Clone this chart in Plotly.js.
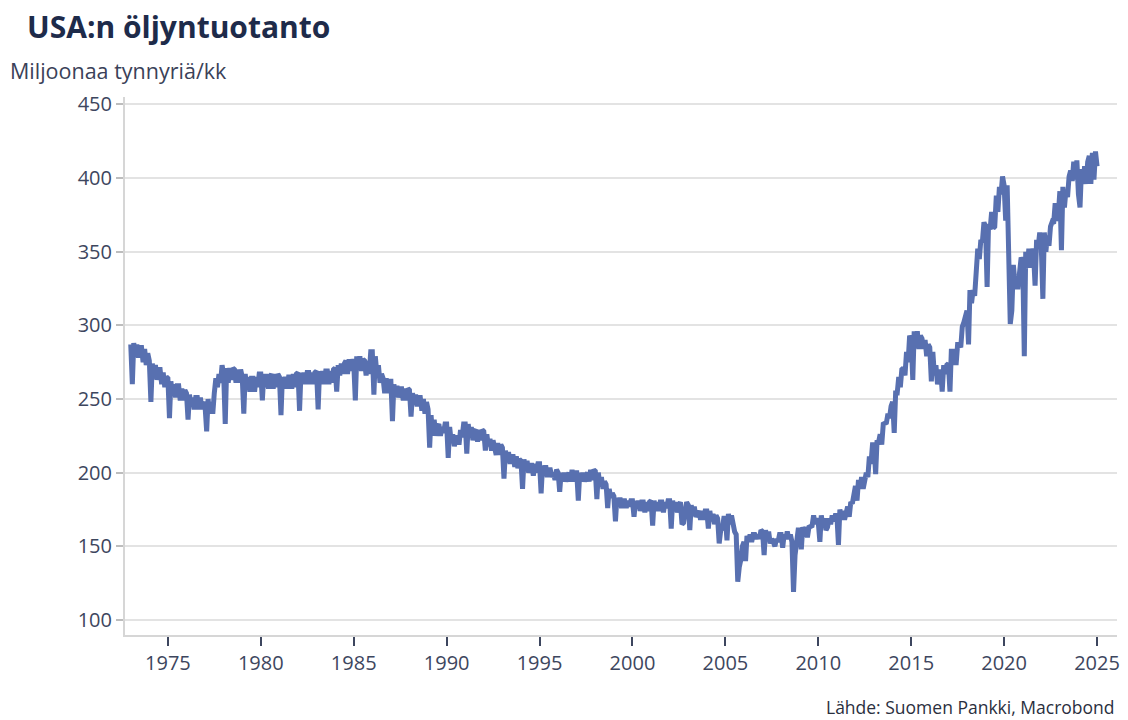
<!DOCTYPE html>
<html>
<head>
<meta charset="utf-8">
<script src="https://cdn.plot.ly/plotly-3.0.1.min.js"></script>
<style>
  html, body { margin: 0; padding: 0; background: #ffffff; }
  #chart { width: 1128px; height: 720px; }
</style>
</head>
<body>
<div id="chart"></div>
<script>
// USA:n öljyntuotanto, miljoonaa tynnyriä kuukaudessa (kuukausiarvot alkaen 1973-01)
const startYear = 1973;
const prod1970s = [
  287, 260, 288, 279, 287, 278, 285, 285, 275, 284, 273, 281,
  276, 248, 274, 264, 273, 263, 270, 270, 260, 268, 258, 265,
  264, 237, 262, 252, 260, 251, 259, 259, 249, 257, 249, 256,
  254, 236, 253, 245, 251, 243, 251, 251, 243, 251, 243, 248,
  245, 228, 250, 240, 248, 240, 254, 264, 258, 267, 261, 273,
  267, 233, 271, 261, 271, 263, 271, 270, 261, 270, 261, 270,
  265, 240, 267, 257, 265, 255, 264, 264, 255, 265, 258, 267
];
const prod1980s = [
  267, 249, 267, 258, 267, 257, 265, 267, 257, 267, 258, 267,
  265, 239, 265, 257, 265, 257, 265, 265, 257, 267, 258, 267,
  268, 242, 268, 260, 268, 260, 268, 268, 260, 268, 260, 268,
  269, 243, 269, 260, 269, 260, 269, 269, 260, 269, 261, 270,
  271, 255, 273, 266, 274, 267, 274, 276, 267, 277, 269, 277,
  274, 249, 279, 270, 279, 269, 277, 276, 266, 276, 267, 282,
  282, 253, 279, 267, 273, 261, 267, 264, 254, 264, 254, 262,
  262, 235, 260, 252, 259, 251, 257, 257, 249, 257, 249, 257,
  256, 238, 254, 246, 253, 245, 251, 251, 242, 250, 240, 248,
  243, 217, 239, 225, 236, 225, 231, 233, 225, 231, 227, 233
];
const prod1990s = [
  233, 210, 231, 221, 226, 218, 223, 225, 219, 229, 224, 233,
  233, 213, 233, 224, 231, 222, 228, 229, 221, 229, 222, 229,
  228, 215, 226, 218, 223, 215, 222, 217, 212, 220, 212, 219,
  217, 196, 215, 207, 214, 206, 211, 211, 204, 211, 203, 209,
  208, 189, 209, 201, 208, 200, 205, 205, 198, 206, 200, 206,
  206, 186, 205, 198, 205, 197, 202, 202, 197, 200, 195, 202,
  200, 187, 200, 194, 200, 194, 198, 200, 194, 202, 194, 200,
  200, 181, 200, 194, 200, 194, 198, 200, 194, 202, 195, 202,
  201, 182, 200, 192, 197, 189, 194, 192, 176, 189, 183, 186,
  184, 167, 183, 177, 183, 176, 181, 181, 176, 181, 177, 181
];
const prod2000s = [
  181, 170, 181, 176, 181, 174, 180, 180, 173, 180, 174, 180,
  181, 164, 181, 174, 180, 174, 180, 180, 173, 180, 176, 181,
  181, 162, 181, 174, 180, 173, 178, 180, 165, 166, 174, 180,
  178, 161, 178, 171, 177, 170, 172, 174, 168, 174, 168, 174,
  174, 162, 174, 167, 172, 165, 171, 169, 152, 161, 162, 169,
  169, 154, 172, 165, 171, 162, 160, 158, 126, 136, 141, 150,
  153, 140, 157, 153, 158, 153, 158, 158, 155, 158, 155, 161,
  160, 144, 161, 155, 160, 152, 155, 153, 150, 155, 153, 158,
  158, 149, 158, 155, 160, 155, 158, 153, 119, 144, 152, 161,
  161, 148, 163, 159, 163, 156, 163, 164, 164, 171, 165, 169
];
const prod2010s = [
  166, 153, 171, 164, 169, 161, 163, 169, 165, 171, 167, 171,
  171, 151, 175, 168, 174, 168, 172, 177, 170, 180, 179, 186,
  191, 181, 195, 189, 197, 189, 198, 200, 197, 211, 206, 219,
  219, 199, 222, 221, 226, 219, 233, 234, 234, 240, 237, 245,
  248, 227, 254, 254, 265, 258, 270, 271, 266, 282, 275, 293,
  290, 263, 296, 288, 296, 284, 293, 291, 284, 290, 279, 287,
  285, 262, 282, 266, 273, 260, 268, 270, 255, 273, 267, 273,
  274, 255, 284, 273, 284, 273, 287, 287, 285, 299, 302, 308,
  310, 287, 324, 315, 324, 320, 338, 352, 345, 358, 357, 370,
  367, 326, 369, 365, 377, 366, 367, 388, 377, 394, 389, 401
];
const prod2020s = [
  395, 371, 395, 360, 301, 310, 341, 329, 326, 326, 336, 346,
  344, 279, 350, 339, 352, 339, 352, 349, 327, 358, 353, 363,
  353, 318, 363, 350, 361, 354, 367, 370, 369, 383, 371, 375,
  391, 351, 394, 380, 392, 387, 401, 405, 398, 411, 399, 412,
  389, 380, 406, 396, 408, 396, 411, 415, 396, 417, 399, 418,
  408
];
const yTicks = [100, 150, 200, 250, 300, 350, 400, 450];
const xTickYears = [1975, 1980, 1985, 1990, 1995, 2000, 2005, 2010, 2015, 2020, 2025];

const values = [].concat(prod1970s, prod1980s, prod1990s, prod2000s, prod2010s, prod2020s);
const dates = values.map((v, i) => {
  const y = startYear + Math.floor(i / 12);
  const m = (i % 12) + 1;
  return y + '-' + (m < 10 ? '0' + m : m) + '-01';
});

const FONT = '"Open Sans", Lato, "DejaVu Sans", sans-serif';
const tickColor = '#3d465e';

const trace = {
  x: dates,
  y: values,
  type: 'scatter',
  mode: 'lines',
  line: { color: '#5870b0', width: 5 },
  hoverinfo: 'x+y'
};

const layout = {
  width: 1128,
  height: 720,
  margin: { l: 125, r: 11, t: 97, b: 85 },
  paper_bgcolor: '#ffffff',
  plot_bgcolor: '#ffffff',
  showlegend: false,
  font: { family: FONT, color: tickColor },
  title: {
    text: '<b>USA:n öljyntuotanto</b>',
    font: { family: FONT, size: 30, color: '#1e2b4a' },
    x: 27 / 1128, xanchor: 'left', xref: 'container',
    y: 1 - 27 / 720, yanchor: 'middle', yref: 'container'
  },
  xaxis: {
    type: 'date',
    range: ['1972-09-10', '2026-01-28'],
    tickvals: xTickYears.map(y => y + '-01-01'),
    ticktext: xTickYears.map(String),
    ticks: 'outside',
    ticklen: 9,
    tickwidth: 2,
    tickcolor: '#3d465e',
    tickfont: { family: FONT, size: 20, color: tickColor },
    showgrid: false,
    showline: true,
    linecolor: '#d6d6d6',
    linewidth: 2,
    zeroline: false,
    fixedrange: true
  },
  yaxis: {
    range: [89.8, 455],
    tickvals: yTicks,
    ticktext: yTicks.map(String),
    ticks: 'outside',
    ticklen: 7,
    tickwidth: 2,
    tickcolor: '#bdbdbd',
    tickfont: { family: FONT, size: 20, color: tickColor },
    showgrid: true,
    gridcolor: '#e3e3e3',
    gridwidth: 2,
    showline: true,
    linecolor: '#d6d6d6',
    linewidth: 2,
    zeroline: false,
    fixedrange: true
  },
  annotations: [
    {
      text: 'Miljoonaa tynnyriä/kk',
      xref: 'paper', yref: 'paper',
      x: (8 - 125) / 992, y: (635 - 70) / 538,
      xanchor: 'left', yanchor: 'middle',
      showarrow: false,
      font: { family: FONT, size: 21.5, color: '#3a4158' }
    },
    {
      text: 'Lähde: Suomen Pankki, Macrobond',
      xref: 'paper', yref: 'paper',
      x: 1, y: (635 - 707) / 538,
      xanchor: 'right', yanchor: 'middle',
      showarrow: false,
      font: { family: FONT, size: 17.5, color: '#2a2f3e' }
    }
  ]
};

Plotly.newPlot('chart', [trace], layout, { displayModeBar: false, staticPlot: true });
</script>
</body>
</html>
